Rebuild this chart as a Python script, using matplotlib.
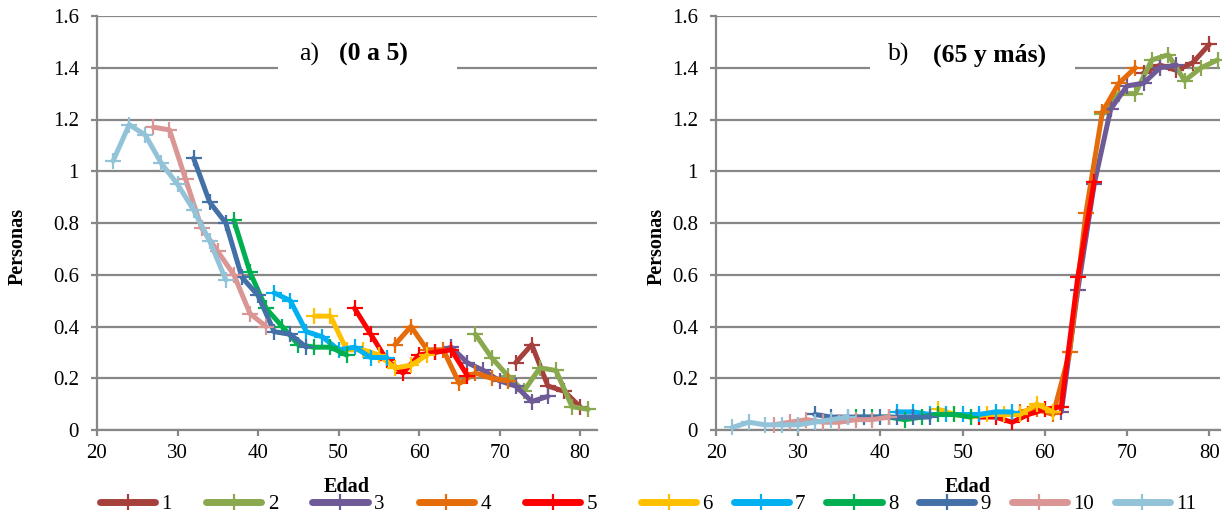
import matplotlib
matplotlib.use('Agg')
import matplotlib.pyplot as plt
from matplotlib.patches import Rectangle
from matplotlib.lines import Line2D
import matplotlib.transforms as mtransforms

plt.rcParams['font.family'] = ['Liberation Serif', 'DejaVu Serif']

# ---------------- data ----------------
series_labels = ['1', '2', '3', '4', '5', '6', '7', '8', '9', '10', '11']
colors = ['#A5403C', '#8AA84E', '#6E5A97', '#E46C0A', '#FF0000', '#FFC000',
          '#00B0F0', '#00B050', '#4470A8', '#D99694', '#93C3D8']

ages_1 = [72, 74, 76, 78, 80]
ages_2 = [67, 69, 71, 73, 75, 77, 79, 81]
ages_3 = [62, 64, 66, 68, 70, 72, 74, 76]
ages_4 = [57, 59, 61, 63, 65, 67, 69, 71]
ages_5 = [52, 54, 56, 58, 60, 62, 64, 66]
ages_6 = [47, 49, 51, 53, 55, 57, 59, 61]
ages_7 = [42, 44, 46, 48, 50, 52, 54, 56]
ages_8 = [37, 39, 41, 43, 45, 47, 49, 51]
ages_9 = [32, 34, 36, 38, 40, 42, 44, 46]
ages_10 = [27, 29, 31, 33, 35, 37, 39, 41]
ages_11 = [22, 24, 26, 28, 30, 32, 34, 36]

# panel a) (0 a 5)
a_1 = [0.26, 0.33, 0.17, 0.15, 0.09]
a_2 = [0.37, 0.28, 0.21, 0.15, 0.24, 0.23, 0.09, 0.08]
a_3 = [0.30, 0.32, 0.26, 0.23, 0.19, 0.17, 0.11, 0.13]
a_4 = [0.33, 0.40, 0.31, 0.31, 0.18, 0.22, 0.20, 0.19]
a_5 = [0.47, 0.37, 0.27, 0.22, 0.29, 0.30, 0.31, 0.21]
a_6 = [0.44, 0.44, 0.31, 0.31, 0.29, 0.24, 0.25, 0.29]
a_7 = [0.53, 0.50, 0.38, 0.36, 0.31, 0.32, 0.28, 0.28]
a_8 = [0.81, 0.61, 0.47, 0.40, 0.33, 0.32, 0.32, 0.29]
a_9 = [1.05, 0.88, 0.80, 0.59, 0.52, 0.38, 0.37, 0.32]
a_10 = [1.17, 1.16, 0.97, 0.78, 0.69, 0.60, 0.45, 0.40]
a_11 = [1.04, 1.18, 1.14, 1.03, 0.95, 0.85, 0.73, 0.58]

# panel b) (65 y más)
b_1 = [1.38, 1.41, 1.39, 1.42, 1.49]
b_2 = [1.22, 1.30, 1.30, 1.43, 1.45, 1.35, 1.40, 1.43]
b_3 = [0.07, 0.54, 0.95, 1.24, 1.33, 1.34, 1.40, 1.41]
b_4 = [0.07, 0.08, 0.06, 0.30, 0.84, 1.23, 1.34, 1.40]
b_5 = [0.05, 0.05, 0.03, 0.06, 0.08, 0.09, 0.59, 0.96]
b_6 = [0.08, 0.06, 0.05, 0.06, 0.06, 0.06, 0.10, 0.07]
b_7 = [0.07, 0.07, 0.06, 0.06, 0.06, 0.06, 0.07, 0.07]
b_8 = [0.05, 0.05, 0.05, 0.04, 0.05, 0.06, 0.06, 0.05]
b_9 = [0.06, 0.05, 0.05, 0.05, 0.05, 0.05, 0.05, 0.05]
b_10 = [0.02, 0.03, 0.04, 0.03, 0.03, 0.04, 0.04, 0.05]
b_11 = [0.01, 0.03, 0.02, 0.02, 0.02, 0.03, 0.04, 0.05]

ages = [ages_1, ages_2, ages_3, ages_4, ages_5, ages_6, ages_7, ages_8, ages_9, ages_10, ages_11]
vals_a = [a_1, a_2, a_3, a_4, a_5, a_6, a_7, a_8, a_9, a_10, a_11]
vals_b = [b_1, b_2, b_3, b_4, b_5, b_6, b_7, b_8, b_9, b_10, b_11]

y_ticks = [0, 0.2, 0.4, 0.6, 0.8, 1.0, 1.2, 1.4, 1.6]
y_ticklabels = ['0', '0.2', '0.4', '0.6', '0.8', '1', '1.2', '1.4', '1.6']
x_ticks = [20, 30, 40, 50, 60, 70, 80]

# ---------------- figure ----------------
W, H = 1222, 517
fig = plt.figure(figsize=(W / 100, H / 100), dpi=100)

grid_col = '#878787'
LW = 3.6


def px(x, y, w, h):
    return [x / W, 1 - (y + h) / H, w / W, h / H]


A_X, A_W = 97, 500
B_X, B_W = 716, 504
ax_a = fig.add_axes(px(A_X, 16, A_W, 414))
ax_b = fig.add_axes(px(B_X, 16, B_W, 414))

for ax, vals, xmax in ((ax_a, vals_a, 82.1), (ax_b, vals_b, 81.3)):
    for i in range(len(series_labels)):
        ax.plot(ages[i], vals[i], color=colors[i], lw=LW, marker='+', ms=11, mew=1.6,
                solid_joinstyle='round', solid_capstyle='round', zorder=3 + i * 0.01,
                clip_on=False)
    ax.set_xlim(20, xmax)
    ax.set_ylim(0, 1.6)
    ax.set_yticks(y_ticks)
    ax.set_yticklabels(y_ticklabels)
    ax.set_xticks(x_ticks)
    ax.set_axisbelow(True)
    ax.yaxis.grid(True, color=grid_col, lw=1.6)
    ax.xaxis.grid(False)
    for s in ('top', 'right'):
        ax.spines[s].set_visible(False)
    for s in ('left', 'bottom'):
        ax.spines[s].set_color(grid_col)
        ax.spines[s].set_linewidth(1.6)
    ax.tick_params(axis='both', colors=grid_col, width=1.6, length=4, labelsize=15,
                   labelcolor='black')
    ax.tick_params(axis='y', pad=9)
    ax.tick_params(axis='x', pad=6)
    ax.set_facecolor('none')

# title boxes
tr_a = mtransforms.blended_transform_factory(ax_a.transAxes, ax_a.transData)
ax_a.add_patch(Rectangle(((278 - A_X) / A_W, 1.33), (457 - 278) / A_W, 0.17,
                         transform=tr_a, fc='white', ec='none', zorder=2))
ax_a.text((299 - A_X) / A_W, 1.45, 'a)', transform=tr_a, fontsize=18.5,
          ha='left', va='center', zorder=4)
ax_a.text((339 - A_X) / A_W, 1.45, '(0 a 5)', transform=tr_a, fontsize=18.5,
          fontweight='bold', ha='left', va='center', zorder=4)

tr_b = mtransforms.blended_transform_factory(ax_b.transAxes, ax_b.transData)
ax_b.add_patch(Rectangle(((870 - B_X) / B_W, 1.33), (1075 - 870) / B_W, 0.17,
                         transform=tr_b, fc='white', ec='none', zorder=2))
ax_b.text((888 - B_X) / B_W, 1.45, 'b)', transform=tr_b, fontsize=18.5,
          ha='left', va='center', zorder=4)
ax_b.text((933 - B_X) / B_W, 1.45, '(65 y más)', transform=tr_b, fontsize=18.5,
          fontweight='bold', ha='left', va='center', zorder=4)

# axis labels
for xc in (18, 657):
    fig.text(xc / W, 1 - 246 / H, 'Personas', rotation=90, fontsize=14.5,
             fontweight='bold', ha='center', va='center')
for xc in (A_X + A_W / 2, B_X + B_W / 2):
    fig.text(xc / W, 1 - 487 / H, 'Edad', fontsize=14.5, fontweight='bold',
             ha='center', va='center')

# legends
handles = [Line2D([], [], color=colors[i], lw=5, marker='+', ms=11, mew=1.6,
                  solid_capstyle='round') for i in range(len(series_labels))]
leg_kw = dict(frameon=False, fontsize=15, handlelength=2.65, handletextpad=0.3,
              numpoints=1, borderaxespad=0, borderpad=0)
fig.legend(handles[:5], series_labels[:5], ncol=5, loc='center left',
           bbox_to_anchor=(100 / W, 1 - 504 / H), columnspacing=1.65, **leg_kw)
fig.legend(handles[5:], series_labels[5:], ncol=6, loc='center left',
           bbox_to_anchor=(641 / W, 1 - 504 / H), columnspacing=1.0, **leg_kw)

fig.savefig('out.png', dpi=100)
